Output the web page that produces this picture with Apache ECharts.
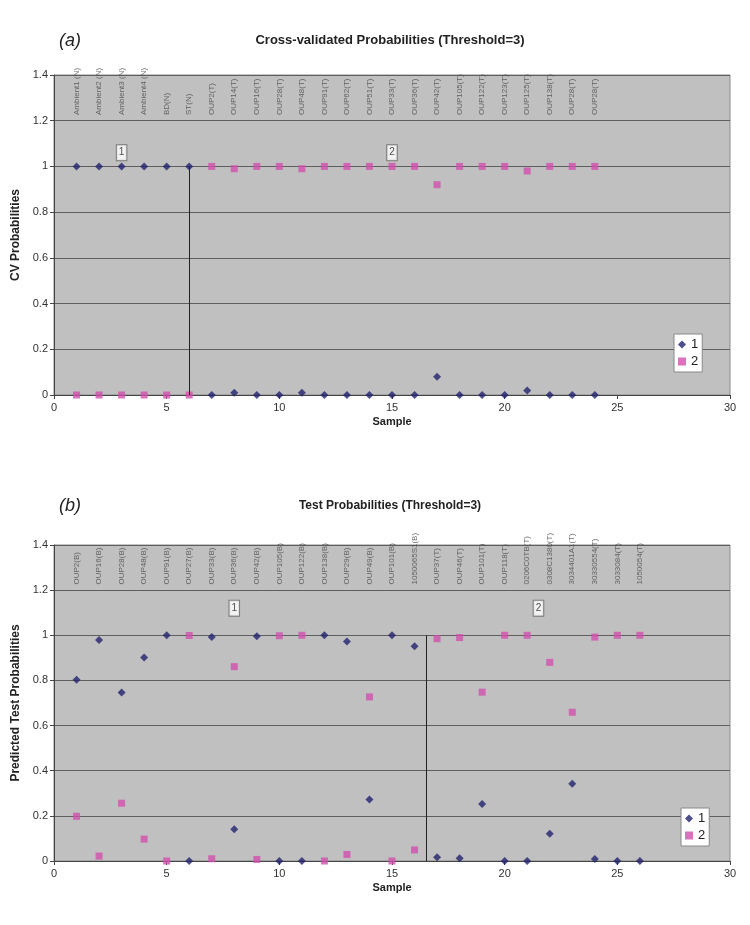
<!DOCTYPE html>
<html>
<head>
<meta charset="utf-8">
<script src="https://cdn.jsdelivr.net/npm/echarts@6/dist/echarts.min.js"></script>
<style>html,body{margin:0;padding:0;background:#fff}#c{width:750px;height:925px}</style>
</head>
<body>
<div id="c"></div>
<script>
// ---------- Chart (a): Cross-validated probabilities ----------
const samplesA = [1,2,3,4,5,6,7,8,9,10,11,12,13,14,15,16,17,18,19,20,21,22,23,24];
const namesA = ["Ambient1 (N)","Ambient2 (N)","Ambient3 (N)","Ambient4 (N)","BD(N)","ST(N)",
  "OUP2(T)","OUP14(T)","OUP16(T)","OUP28(T)","OUP48(T)","OUP91(T)","OUP62(T)","OUP51(T)",
  "OUP33(T)","OUP36(T)","OUP42(T)","OUP105(T)","OUP122(T)","OUP123(T)","OUP125(T)","OUP138(T)","OUP28(T)","OUP28(T)"];
const class1A = [1,1,1,1,1,1,0,0.01,0,0,0.01,0,0,0,0,0,0.08,0,0,0,0.02,0,0,0];
const class2A = [0,0,0,0,0,0,1,0.99,1,1,0.99,1,1,1,1,1,0.92,1,1,1,0.98,1,1,1];
const dividerA = 6;
const groupLabelsA = [{x:3, y:1.06, text:"1"}, {x:15, y:1.06, text:"2"}];

// ---------- Chart (b): Test probabilities ----------
const samplesB = [1,2,3,4,5,6,7,8,9,10,11,12,13,14,15,16,17,18,19,20,21,22,23,24,25,26];
const namesB = ["OUP2(B)","OUP16(B)","OUP28(B)","OUP48(B)","OUP91(B)","OUP27(B)","OUP33(B)","OUP36(B)",
  "OUP42(B)","OUP105(B)","OUP122(B)","OUP138(B)","OUP29(B)","OUP49(B)","OUP101(B)","1050065S1(B)",
  "OUP37(T)","OUP46(T)","OUP101(T)","OUP118(T)","0206C0TB(T)","0308C1380(T)","3034401A1(T)",
  "30330554(T)","3033084(T)","1050054(T)"];
const class1B = [0.803,0.979,0.746,0.902,1.0,0.0,0.992,0.141,0.996,0.0,0.0,1.0,0.972,0.273,1.0,0.951,
  0.017,0.012,0.253,0.0,0.0,0.121,0.342,0.009,0.0,0.0];
const class2B = [0.198,0.022,0.256,0.097,0.0,0.999,0.01,0.861,0.007,0.998,1.0,0.0,0.029,0.727,0.0,0.049,
  0.985,0.99,0.748,1.0,1.0,0.88,0.659,0.992,1.0,1.0];
const dividerB = 16.5;
const groupLabelsB = [{x:8, y:1.12, text:"1"}, {x:21.5, y:1.12, text:"2"}];

const nameLabelY = 1.225;
const yTicks = {min:0, max:1.4, interval:0.2};
const xTicks = {min:0, max:30, interval:5};

const NAVY = '#22226e', PINK = '#d14fae';
const FONT = 'Liberation Sans, Arial, sans-serif';

function pairs(xs, ys){ return xs.map((x,i)=>[x, ys[i]]); }

function makeAxes(idx, yName){
  const x = {
    gridIndex: idx, type:'value', min:xTicks.min, max:xTicks.max, interval:xTicks.interval,
    name:'Sample', nameLocation:'middle', nameGap:21,
    nameTextStyle:{fontFamily:FONT, fontWeight:'bold', fontSize:11, color:'#222'},
    axisLine:{onZero:false, lineStyle:{color:'#444', width:1}},
    axisTick:{show:true, inside:false, length:4, lineStyle:{color:'#444'}},
    axisLabel:{fontFamily:FONT, fontSize:11, color:'#333', margin:7},
    splitLine:{show:false}
  };
  const y = {
    gridIndex: idx, type:'value', min:yTicks.min, max:yTicks.max, interval:yTicks.interval,
    name:yName, nameLocation:'middle', nameGap:31, nameRotate:90,
    nameTextStyle:{fontFamily:FONT, fontWeight:'bold', fontSize:12, color:'#222'},
    axisLine:{show:true, lineStyle:{color:'#444', width:1}},
    axisTick:{show:true, inside:false, length:4, lineStyle:{color:'#444'}},
    axisLabel:{fontFamily:FONT, fontSize:11, color:'#333', margin:6},
    splitLine:{show:true, lineStyle:{color:'#5e5e5e', width:1}}
  };
  return [x, y];
}

function makeSeries(idx, samples, names, c1, c2, divider, groupLabels){
  return [
    {
      name:'1', type:'scatter', xAxisIndex:idx, yAxisIndex:idx,
      symbol:'diamond', symbolSize:8, itemStyle:{color:NAVY},
      data: pairs(samples, c1), z:5,
      markLine:{
        silent:true, symbol:['none','none'], label:{show:false},
        lineStyle:{color:'#222', width:1, type:'solid'},
        data:[[{coord:[divider, 0]}, {coord:[divider, 1]}]]
      }
    },
    {
      name:'2', type:'scatter', xAxisIndex:idx, yAxisIndex:idx,
      symbol:'rect', symbolSize:7, itemStyle:{color:PINK},
      data: pairs(samples, c2), z:4
    },
    {
      name:'names', type:'scatter', xAxisIndex:idx, yAxisIndex:idx,
      symbolSize:1, itemStyle:{color:'rgba(0,0,0,0)'}, silent:true,
      data: samples.map((x,i)=>({value:[x, nameLabelY], name:names[i]})),
      label:{show:true, position:'inside', rotate:90, align:'left', verticalAlign:'middle',
        formatter:p=>p.name, fontFamily:FONT, fontSize:8, color:'#4a4a4a'}
    },
    {
      name:'groups', type:'scatter', xAxisIndex:idx, yAxisIndex:idx,
      symbolSize:1, itemStyle:{color:'rgba(0,0,0,0)'}, silent:true,
      data: groupLabels.map(g=>({value:[g.x, g.y], name:g.text})),
      label:{show:true, position:'inside', formatter:p=>p.name, fontFamily:FONT, fontSize:10,
        color:'#222', backgroundColor:'#fff', borderColor:'#666', borderWidth:1, padding:[3,2,2,2]}
    }
  ];
}

const axA = makeAxes(0, 'CV Probabilities');
const axB = makeAxes(1, 'Predicted Test Probabilities');

const option = {
  animation:false,
  backgroundColor:'#fff',
  grid:[
    {left:54, top:75, width:676, height:320, show:true, backgroundColor:'#c0c0c0', borderColor:'#8a8a8a', borderWidth:1},
    {left:54, top:545, width:676, height:316, show:true, backgroundColor:'#c0c0c0', borderColor:'#8a8a8a', borderWidth:1}
  ],
  xAxis:[axA[0], axB[0]],
  yAxis:[axA[1], axB[1]],
  legend:[
    {data:['1','2'], orient:'vertical', left:674, top:334, itemGap:4, itemWidth:8, itemHeight:8,
      backgroundColor:'#fff', borderColor:'#888', borderWidth:1, padding:[4,4,4,4],
      textStyle:{fontFamily:FONT, fontSize:13, color:'#222'}, selectedMode:false},
    {data:['1','2'], orient:'vertical', left:681, top:808, itemGap:4, itemWidth:8, itemHeight:8,
      backgroundColor:'#fff', borderColor:'#888', borderWidth:1, padding:[4,4,4,4],
      textStyle:{fontFamily:FONT, fontSize:13, color:'#222'}, selectedMode:false}
  ],
  graphic:[
    {type:'text', x:390, y:40, style:{text:'Cross-validated Probabilities (Threshold=3)', font:'bold 13px '+FONT, fill:'#222', textAlign:'center', textVerticalAlign:'middle'}},
    {type:'text', left:59, top:32, style:{text:'(a)', font:'italic 18px '+FONT, fill:'#222'}},
    {type:'text', x:390, y:506, style:{text:'Test Probabilities (Threshold=3)', font:'bold 12px '+FONT, fill:'#222', textAlign:'center', textVerticalAlign:'middle'}},
    {type:'text', left:59, top:497, style:{text:'(b)', font:'italic 18px '+FONT, fill:'#222'}}
  ],
  series:[].concat(
    makeSeries(0, samplesA, namesA, class1A, class2A, dividerA, groupLabelsA),
    makeSeries(1, samplesB, namesB, class1B, class2B, dividerB, groupLabelsB)
  )
};

const chart = echarts.init(document.getElementById('c'), null, {renderer:'canvas'});
chart.setOption(option);
</script>
</body>
</html>
